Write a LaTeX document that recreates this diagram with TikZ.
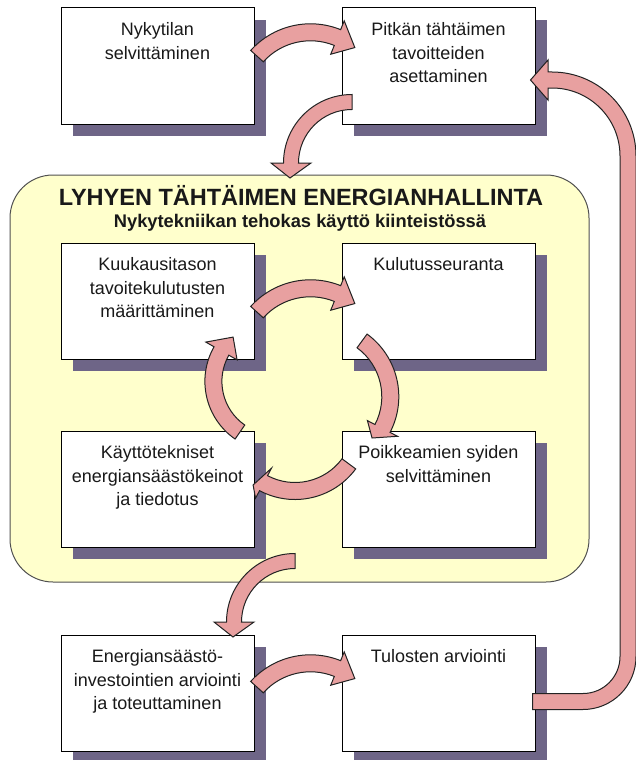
\documentclass[tikz,border=0pt]{standalone}
\usepackage{fontspec}
\setmainfont{Liberation Sans}
\usetikzlibrary{shadows}
\definecolor{shadowcol}{RGB}{110,101,135}
\definecolor{yellowfill}{RGB}{255,255,204}
\definecolor{yellowline}{RGB}{80,80,80}
\definecolor{arrowfill}{RGB}{232,160,160}
\definecolor{arrowline}{RGB}{35,35,35}
\definecolor{textcol}{RGB}{25,25,25}

% curved block arrow: #1 centre coordinate, #2 radius, #3 tail angle, #4 head-base angle,
% #5 half shaft width, #6 half head width, #7 tip angle, #8 tip radius
\newcommand\blockarc[8]{%
  \pgfmathsetmacro\bRo{#2+#5}%
  \pgfmathsetmacro\bRi{#2-#5}%
  \pgfmathsetmacro\bHo{#2+#6}%
  \pgfmathsetmacro\bHi{#2-#6}%
  \filldraw[blockarrow] ([shift={(#1)}]#3:\bRo) arc[start angle=#3, end angle=#4, radius=\bRo]
    -- ([shift={(#1)}]#4:\bHo) -- ([shift={(#1)}]#7:#8) -- ([shift={(#1)}]#4:\bHi)
    -- ([shift={(#1)}]#4:\bRi) arc[start angle=#4, end angle=#3, radius=\bRi] -- cycle;
}

\begin{document}
\begin{tikzpicture}[x=1pt,y=1pt,
  stepbox/.style={draw=black, line width=1pt, fill=white, minimum width=193pt, minimum height=116pt, inner sep=0pt,
    drop shadow={shadow xshift=12pt, shadow yshift=-12pt, fill=shadowcol, opacity=1}},
  boxtext/.style={anchor=north, inner sep=0pt, align=center, font=\fontsize{18}{23.5}\selectfont, text=textcol},
  zonebox/.style={draw=yellowline, line width=1pt, fill=yellowfill, rounded corners=43pt,
    minimum width=579pt, minimum height=407pt, inner sep=0pt},
  blockarrow/.style={fill=arrowfill, draw=arrowline, line width=1pt, line join=miter}
]
\useasboundingbox (0,0) rectangle (635,-760);

% yellow zone
\node[zonebox] (zone) at (299.5,-378.5) {};
\node[anchor=base, inner sep=0pt, font=\fontsize{23.5}{27}\selectfont\bfseries, text=textcol] (title) at (301,-205) {LYHYEN TÄHTÄIMEN ENERGIANHALLINTA};
\node[anchor=base, inner sep=0pt, font=\fontsize{18.3}{22}\selectfont\bfseries, text=textcol] (subtitle) at (300,-227) {Nykytekniikan tehokas käyttö kiinteistössä};

% boxes
\node[stepbox] (b1) at (157.5,-66) {};
\node[stepbox] (b2) at (438.5,-66) {};
\node[stepbox] (b3) at (157.5,-301) {};
\node[stepbox] (b4) at (438.5,-301) {};
\node[stepbox] (b5) at (157.5,-489) {};
\node[stepbox] (b6) at (438.5,-489) {};
\node[stepbox] (b7) at (157.5,-693) {};
\node[stepbox] (b8) at (438.5,-693) {};

\node[boxtext] (t1) at ([yshift=-15pt]b1.north) {Nykytilan\\selvittäminen};
\node[boxtext] (t2) at ([yshift=-15pt]b2.north) {Pitkän tähtäimen\\tavoitteiden\\asettaminen};
\node[boxtext] (t3) at ([yshift=-15pt]b3.north) {Kuukausitason\\tavoitekulutusten\\määrittäminen};
\node[boxtext] (t4) at ([yshift=-15pt]b4.north) {Kulutusseuranta};
\node[boxtext] (t5) at ([yshift=-15pt]b5.north) {Käyttötekniset\\energiansäästökeinot\\ja tiedotus};
\node[boxtext] (t6) at ([yshift=-15pt]b6.north) {Poikkeamien syiden\\selvittäminen};
\node[boxtext] (t7) at ([yshift=-15pt]b7.north) {Energiansäästö-\\investointien arviointi\\ja toteuttaminen};
\node[boxtext] (t8) at ([yshift=-15pt]b8.north) {Tulosten arviointi};

% arrow centres
\coordinate (c1) at (310.5,-104.3);
\coordinate (c2) at (352,-163);
\coordinate (c3) at (310.5,-360.3);
\coordinate (c4) at (321.3,-396.6);
\coordinate (c5) at (295,-424);
\coordinate (c6) at (275,-381.4);
\coordinate (c7) at (295,-622);
\coordinate (c8) at (310.5,-735.3);

\blockarc{c1}{72}{138}{68}{8.5}{18}{52}{72}
\blockarc{c2}{61}{90}{180}{7.5}{20}{193.6}{63.8}
\blockarc{c3}{72}{138}{68}{8.5}{18}{52}{72}
\blockarc{c4}{69}{53.8}{-27.5}{8.5}{17}{-39.2}{65.5}
\blockarc{c5}{67}{-36.5}{-118}{8.5}{17}{-124.5}{74}
\blockarc{c6}{61.6}{235.3}{150.4}{8.5}{18}{133.4}{61}
\blockarc{c7}{61}{90}{180}{7.5}{20}{193.6}{63.8}
\blockarc{c8}{72}{138}{68}{8.5}{18}{52}{72}

% long return arrow from Tulosten arviointi to Pitkän tähtäimen
\coordinate (r1) at (b8.east |- 0,-709.5);
\coordinate (r2) at (b2.east |- 0,-80);
\filldraw[blockarrow] ([xshift=-3pt]r1) -- (583,-709.5) arc[start angle=-90, end angle=0, radius=53]
  -- (636,-156) arc[start angle=0, end angle=90, radius=84]
  -- (548,-72) -- (548,-60) -- ([xshift=-5pt]r2) -- (548,-100) -- (548,-88) -- (552,-88)
  arc[start angle=90, end angle=0, radius=68] -- (620,-656.5)
  arc[start angle=0, end angle=-90, radius=37] -- ([xshift=-3pt,yshift=16pt]r1) -- cycle;
\end{tikzpicture}
\end{document}
